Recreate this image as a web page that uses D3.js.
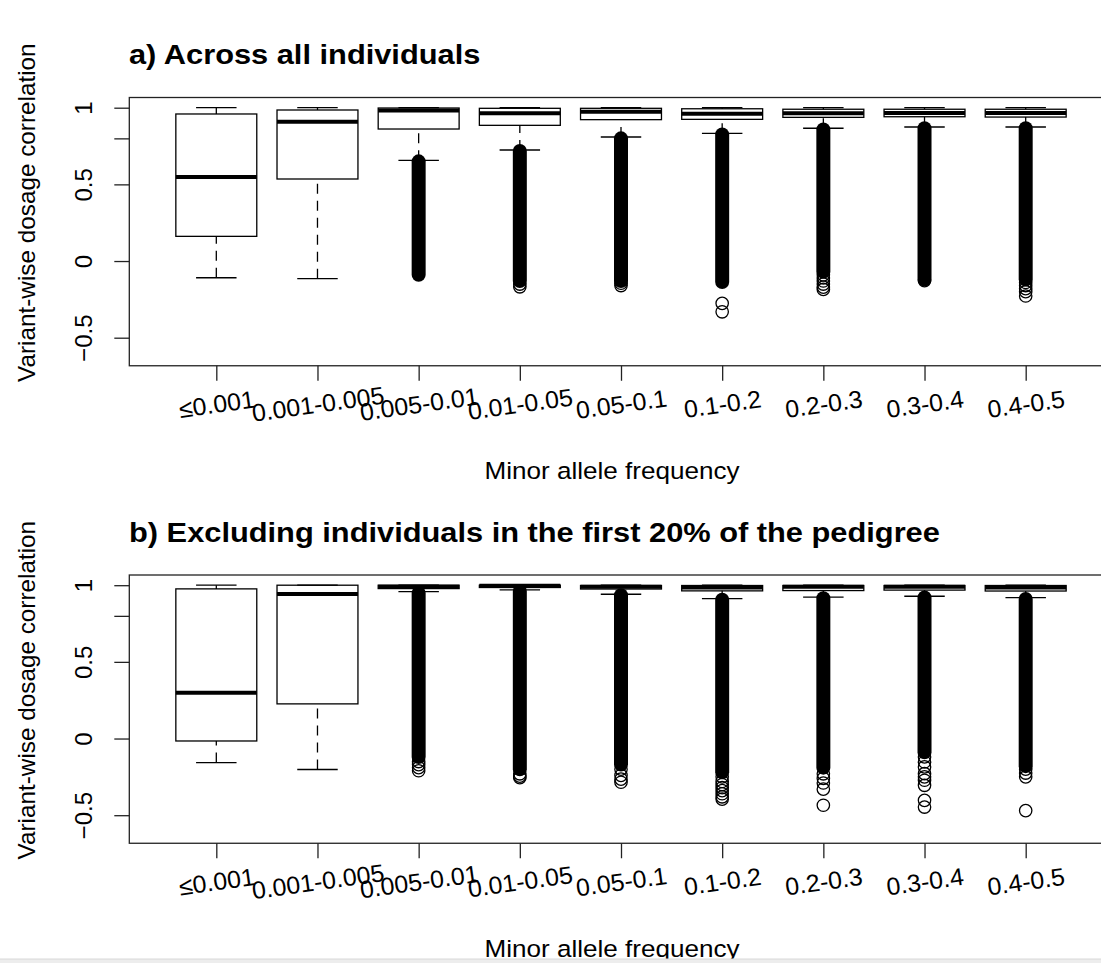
<!DOCTYPE html>
<html>
<head>
<meta charset="utf-8">
<script src="https://cdn.jsdelivr.net/npm/d3@7"></script>
<style>
  body { margin: 0; background: #fff; }
  text { font-family: "Liberation Sans", Arial, sans-serif; fill: #000; }
</style>
</head>
<body>
<div class="viz"></div>
<script>
// categories (minor allele frequency bins)
const categories = ['≤0.001', '0.001-0.005', '0.005-0.01', '0.01-0.05', '0.05-0.1', '0.1-0.2', '0.2-0.3', '0.3-0.4', '0.4-0.5'];
const yTicks = [-0.5, 0, 0.5, 0.8, 1];

// a) across all individuals
const aLow = [-0.109, -0.115, 0.657, 0.724, 0.809, 0.833, 0.866, 0.874, 0.874];
const aQ1 = [0.161, 0.535, 0.861, 0.885, 0.922, 0.924, 0.937, 0.941, 0.939];
const aMed = [0.548, 0.909, 0.982, 0.963, 0.974, 0.96, 0.963, 0.965, 0.965];
const aQ3 = [0.959, 0.985, 0.998, 0.996, 0.996, 0.993, 0.99, 0.99, 0.99];
const aHigh = [1, 1, 1, 1, 1, 1, 1, 1, 1];
const aOutTop = [null, null, 0.65, 0.718, 0.8, 0.826, 0.858, 0.866, 0.866];
const aOutBottom = [null, null, -0.09, -0.13, -0.13, -0.137, -0.07, -0.12, -0.12];
const aOutExtra = [[], [], [], [-0.15, -0.168], [-0.145, -0.16], [-0.276, -0.331],
  [-0.09, -0.11, -0.13, -0.15, -0.17, -0.185], [-0.128], [-0.14, -0.16, -0.18, -0.2, -0.228]];

// b) excluding individuals in the first 20% of the pedigree
const bLow = [-0.157, -0.202, 0.958, 0.969, 0.941, 0.913, 0.922, 0.928, 0.919];
const bQ1 = [-0.016, 0.226, 0.978, 0.985, 0.975, 0.963, 0.965, 0.968, 0.962];
const bMed = [0.298, 0.943, 0.99, 0.996, 0.99, 0.985, 0.99, 0.99, 0.985];
const bQ3 = [0.976, 1, 1, 1, 0.998, 0.998, 0.998, 0.998, 0.998];
const bHigh = [1, 1, 1, 1, 1, 1, 1, 1, 1];
const bOutTop = [null, null, 0.95, 0.962, 0.935, 0.905, 0.915, 0.92, 0.91];
const bOutBottom = [null, null, -0.12, -0.2, -0.17, -0.22, -0.19, -0.09, -0.18];
const bOutExtra = [[], [], [-0.15, -0.17, -0.19, -0.21], [-0.23, -0.245, -0.255],
  [-0.2, -0.24, -0.265, -0.285], [-0.25, -0.28, -0.3, -0.32, -0.34, -0.36, -0.38, -0.395],
  [-0.23, -0.26, -0.29, -0.33, -0.435], [-0.12, -0.153, -0.185, -0.229, -0.25, -0.272, -0.305, -0.403, -0.447],
  [-0.2, -0.225, -0.25, -0.47]];

const W = 1101, H = 963;
const svg = d3.select('.viz').append('svg')
  .attr('width', W)
  .attr('height', H);
svg.append('rect').attr('width', W).attr('height', H).attr('fill', '#fff');

const x = d3.scaleLinear().domain([0.14, 9.86]).range([129.3, 1112.7]);
const boxW = x(0.8) - x(0);
const capW = x(0.4) - x(0);
const lw = 1.3;

function drawPanel(top, title, st) {
  const y = d3.scaleLinear().domain([-0.5, 1]).range([337.7 + top, 107.7 + top]);
  const g = svg.append('g');
  const yTop = y(1.0665), yBot = y(-0.683);

  // the source picture is a little stretched sideways, so horizontal text runs long
  g.append('text')
    .attr('transform', `translate(129,${64 + top}) scale(1.1,1)`)
    .attr('font-size', 28).attr('font-weight', 'bold')
    .text(title);

  // whiskers, caps, boxes, medians
  categories.forEach((c, i) => {
    const cx = x(i + 1);
    const b = g.append('g');
    [[st.low[i], st.q1[i]], [st.high[i], st.q3[i]]].forEach(([w, edge]) => {
      if (Math.abs(w - edge) > 0.001) {
        b.append('line')
          .attr('x1', cx).attr('x2', cx)
          .attr('y1', y(w)).attr('y2', y(edge))
          .attr('stroke', '#000').attr('stroke-width', lw)
          .attr('stroke-dasharray', '10,7');
      }
      b.append('line')
        .attr('x1', cx - capW / 2).attr('x2', cx + capW / 2)
        .attr('y1', y(w)).attr('y2', y(w))
        .attr('stroke', '#000').attr('stroke-width', lw);
    });
    b.append('rect')
      .attr('x', cx - boxW / 2).attr('width', boxW)
      .attr('y', y(st.q3[i])).attr('height', Math.max(0.5, y(st.q1[i]) - y(st.q3[i])))
      .attr('fill', 'none').attr('stroke', '#000').attr('stroke-width', lw);
    b.append('line')
      .attr('x1', cx - boxW / 2).attr('x2', cx + boxW / 2)
      .attr('y1', y(st.med[i])).attr('y2', y(st.med[i]))
      .attr('stroke', '#000').attr('stroke-width', 4);

    // outliers: dense run drawn as a column of overlapping circles, plus sparse ones
    if (st.outTop[i] !== null) {
      b.append('line')
        .attr('x1', cx).attr('x2', cx)
        .attr('y1', y(st.outTop[i])).attr('y2', y(st.outBottom[i]))
        .attr('stroke', '#000').attr('stroke-width', 14)
        .attr('stroke-linecap', 'round');
    }
    b.selectAll('circle.out')
      .data(st.extra[i])
      .enter()
      .append('circle')
      .attr('class', 'out')
      .attr('cx', cx).attr('cy', d => y(d))
      .attr('r', 6.2)
      .attr('fill', 'none').attr('stroke', '#000').attr('stroke-width', 1.3);
  });

  // frame
  g.append('rect')
    .attr('x', x(0.14)).attr('y', yTop)
    .attr('width', x(9.86) - x(0.14)).attr('height', yBot - yTop)
    .attr('fill', 'none').attr('stroke', '#222').attr('stroke-width', lw);

  // y axis
  const ya = g.append('g')
    .attr('transform', `translate(${x(0.14)},0)`)
    .call(d3.axisLeft(y).tickValues(yTicks).tickSize(15)
      .tickFormat(d => d === 0.8 ? '' : d3.format('~g')(d)));
  ya.select('.domain').remove();
  ya.selectAll('line').attr('stroke', '#222').attr('stroke-width', lw);
  ya.selectAll('text')
    .attr('x', null).attr('dy', null)
    .attr('transform', 'translate(-37.3,0) rotate(-90)')
    .attr('text-anchor', 'middle')
    .attr('font-size', 24)
    .attr('font-family', '"Liberation Sans", Arial, sans-serif')
    .attr('fill', '#000');

  // x axis
  const xa = g.append('g')
    .attr('transform', `translate(0,${yBot})`)
    .call(d3.axisBottom(x).tickValues(d3.range(1, 10)).tickSize(15)
      .tickFormat(i => categories[i - 1]));
  xa.select('.domain').remove();
  xa.selectAll('line').attr('stroke', '#222').attr('stroke-width', lw);
  xa.selectAll('text')
    .attr('y', null).attr('dy', null)
    .attr('dominant-baseline', 'central')
    .attr('transform', 'translate(0,38.5) rotate(-8) scale(1.02,1)')
    .attr('text-anchor', 'middle')
    .attr('font-size', 24.5)
    .attr('font-family', '"Liberation Sans", Arial, sans-serif')
    .attr('fill', '#000');

  // axis titles
  g.append('text')
    .attr('transform', `translate(612,${479 + top}) scale(1.11,1)`)
    .attr('text-anchor', 'middle').attr('font-size', 23.5)
    .text('Minor allele frequency');
  g.append('text')
    .attr('transform', `translate(35,${(yTop + yBot) / 2 - 19}) rotate(-90)`)
    .attr('text-anchor', 'middle').attr('font-size', 24.3)
    .text('Variant-wise dosage correlation');
}

drawPanel(0, 'a) Across all individuals',
  { low: aLow, q1: aQ1, med: aMed, q3: aQ3, high: aHigh, outTop: aOutTop, outBottom: aOutBottom, extra: aOutExtra });
drawPanel(477.5, 'b) Excluding individuals in the first 20% of the pedigree',
  { low: bLow, q1: bQ1, med: bMed, q3: bQ3, high: bHigh, outTop: bOutTop, outBottom: bOutBottom, extra: bOutExtra });

// light strip at the bottom edge of the screenshot
svg.append('rect').attr('x', 0).attr('y', 959).attr('width', W).attr('height', 4).attr('fill', '#ededed');
svg.append('line').attr('x1', 0).attr('x2', W).attr('y1', 959).attr('y2', 959).attr('stroke', '#d8d8d8');
</script>
</body>
</html>
